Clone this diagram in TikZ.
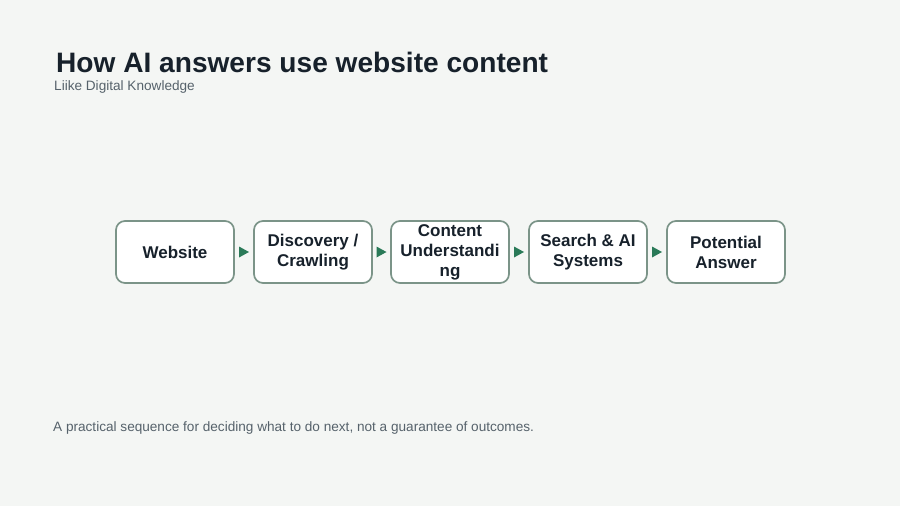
\documentclass[tikz,border=0pt]{standalone}
\usepackage{fontspec}
\setmainfont{Liberation Sans}
\definecolor{bg}{HTML}{F4F6F4}
\definecolor{ink}{HTML}{17212B}
\definecolor{sub}{HTML}{56626B}
\definecolor{edge}{HTML}{7B9488}
\definecolor{arr}{HTML}{2A7A58}
\begin{document}
\begin{tikzpicture}[x=1pt,y=-1pt,
  stepbox/.style={draw=edge, line width=1.7pt, fill=white, rounded corners=9pt,
    minimum width=118pt, minimum height=62pt, inner sep=0pt, align=center,
    font=\fontsize{17}{20}\selectfont\bfseries, text=ink},
  tri/.style={fill=arr, draw=none}]
\fill[bg] (0,0) rectangle (900,506);
\useasboundingbox (0,0) rectangle (900,506);
\node[anchor=base west, font=\fontsize{28.1}{33}\selectfont\bfseries, text=ink, inner sep=0pt] (title) at (56,72) {How AI answers use website content};
\node[anchor=base west, font=\fontsize{13.6}{15}\selectfont, text=sub, inner sep=0pt] (subtitle) at (54,90) {Liike Digital Knowledge};
\node[stepbox] (b1) at (175,252) {Website};
\node[stepbox] (b2) at (313,252) {Discovery /\\Crawling};
\node[stepbox] (b3) at (450,252) {Content\\Understandi\\ng};
\node[stepbox] (b4) at (588,252) {Search \& AI\\Systems};
\node[stepbox] (b5) at (726,252) {Potential\\Answer};
\foreach \a/\b in {b1/b2,b2/b3,b3/b4,b4/b5}{
  \path (\a.east) -- (\b.west) coordinate[pos=0.5] (m\a);
  \fill[tri] ([xshift=-5pt,yshift=-5.5pt]m\a) -- ([xshift=5pt]m\a) -- ([xshift=-5pt,yshift=5.5pt]m\a) -- cycle;
}
\node[anchor=base west, font=\fontsize{13.6}{16}\selectfont, text=sub, inner sep=0pt] (foot) at (53,431) {A practical sequence for deciding what to do next, not a guarantee of outcomes.};
\end{tikzpicture}
\end{document}
